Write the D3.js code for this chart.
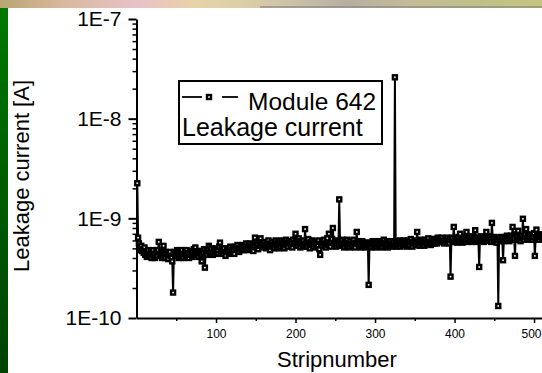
<!DOCTYPE html>
<html>
<head>
<meta charset="utf-8">
<script src="https://cdn.jsdelivr.net/npm/d3@7/dist/d3.min.js"></script>
<style>
  html, body { margin: 0; padding: 0; background: #fff; }
  svg { display: block; font-family: "Liberation Sans", Arial, sans-serif; }
</style>
</head>
<body>
<div id="chart"></div>
<script>
// leakage current per strip, in units of 1E-10 A (strip 1..512)
var leakage = [
  22.5, 6.4, 5.6, 5.1, 4.8, 5.3, 4.7, 4.9, 4.5, 5.1, 4.3, 4.7, 4.1, 4.5, 4.8, 4.3,
  4.2, 4.6, 4.0, 4.4, 4.8, 4.2, 4.0, 4.4, 4.6, 4.2, 4.8, 5.8, 4.4, 4.2, 4.6, 4.0,
  4.4, 5.3, 4.2, 4.0, 4.6, 4.4, 4.2, 3.9, 4.4, 4.6, 4.2, 4.0, 3.7, 1.8, 4.4, 4.6,
  4.2, 4.4, 4.8, 4.6, 4.0, 4.2, 4.4, 4.6, 4.8, 4.2, 4.0, 4.4, 4.6, 4.2, 4.8, 4.4,
  4.5, 4.0, 4.3, 4.7, 4.5, 4.1, 4.3, 4.9, 4.5, 5.1, 4.3, 4.7, 4.5, 4.1, 4.7, 4.5,
  4.3, 3.7, 4.7, 4.5, 4.9, 3.2, 4.5, 4.7, 4.3, 4.9, 5.3, 4.5, 4.7, 5.0, 4.5, 4.3,
  4.8, 4.6, 4.4, 5.0, 4.6, 4.8, 4.4, 5.2, 5.7, 4.6, 5.0, 4.8, 4.4, 5.0, 4.6, 4.2,
  4.6, 5.0, 4.8, 4.4, 4.6, 5.2, 4.8, 4.6, 5.0, 4.8, 4.4, 5.2, 5.0, 4.8, 5.4, 5.0,
  4.6, 5.0, 5.2, 4.8, 5.0, 5.4, 4.8, 5.2, 5.0, 5.6, 5.2, 4.8, 5.4, 5.0, 5.6, 5.2,
  5.1, 5.5, 4.7, 5.3, 6.4, 5.7, 5.1, 5.5, 4.9, 5.9, 5.3, 6.3, 5.5, 5.1, 5.7, 5.3,
  5.8, 5.4, 5.0, 5.6, 5.2, 6.0, 5.4, 4.8, 5.6, 5.2, 5.8, 5.4, 5.0, 5.6, 6.0, 5.2,
  5.4, 5.8, 5.0, 5.6, 5.2, 6.0, 5.6, 5.4, 5.8, 5.0, 5.6, 6.1, 5.4, 5.2, 5.8, 5.6,
  5.9, 5.3, 5.7, 5.1, 6.1, 5.5, 5.7, 7.0, 5.9, 5.3, 5.7, 6.3, 5.5, 5.1, 5.9, 5.7,
  5.2, 6.0, 5.4, 7.8, 5.6, 5.8, 5.2, 6.2, 5.6, 5.0, 5.8, 5.4, 6.0, 5.2, 5.6, 5.8,
  5.5, 5.1, 5.7, 5.3, 6.0, 4.9, 4.3, 5.5, 5.9, 5.3, 5.7, 6.1, 5.5, 5.1, 5.7, 6.3,
  5.4, 7.0, 5.6, 5.2, 5.8, 6.2, 8.0, 5.6, 5.4, 6.0, 5.2, 5.8, 5.6, 5.4, 15.5, 5.8,
  5.3, 5.7, 6.1, 5.5, 5.1, 5.9, 5.7, 5.3, 6.1, 5.5, 5.7, 5.1, 5.9, 5.5, 5.3, 5.7,
  6.1, 5.5, 5.1, 5.7, 7.3, 5.5, 5.9, 5.3, 5.7, 5.1, 5.5, 5.9, 5.3, 5.7, 5.5, 5.1,
  5.7, 5.3, 5.5, 2.15, 5.3, 5.7, 5.1, 5.5, 5.9, 5.3, 5.7, 5.5, 5.1, 5.9, 5.3, 5.7,
  5.5, 5.9, 5.3, 5.7, 5.1, 5.5, 6.1, 5.3, 5.7, 5.5, 5.9, 5.1, 5.7, 5.3, 5.9, 5.5,
  5.6, 5.2, 5.8, 5.4, 260, 5.6, 5.2, 5.8, 5.4, 5.6, 6.0, 5.2, 5.6, 5.8, 5.4, 6.0,
  5.6, 5.4, 5.8, 5.2, 6.0, 5.6, 5.4, 5.8, 6.2, 5.6, 5.2, 5.8, 5.6, 6.0, 5.4, 5.8,
  7.3, 5.5, 5.9, 5.3, 5.7, 6.1, 5.5, 5.9, 5.7, 5.3, 6.1, 5.7, 5.5, 5.9, 6.3, 5.7,
  5.8, 5.4, 6.0, 5.6, 6.2, 5.8, 5.6, 6.2, 6.0, 5.6, 6.4, 5.8, 6.2, 6.0, 5.8, 6.4,
  5.8, 6.0, 5.6, 6.2, 6.0, 5.8, 6.4, 6.0, 5.6, 6.2, 2.6, 6.0, 6.4, 5.8, 8.2, 6.2,
  5.9, 6.3, 5.7, 6.1, 6.5, 5.9, 7.0, 6.3, 6.1, 5.7, 6.3, 5.9, 6.5, 6.1, 7.3, 6.3,
  5.8, 6.4, 6.0, 6.2, 6.6, 5.8, 6.2, 6.4, 6.0, 7.6, 6.2, 5.8, 6.4, 6.0, 3.25, 6.2,
  6.6, 6.0, 6.4, 6.2, 5.8, 6.4, 6.0, 7.3, 6.2, 6.6, 6.0, 6.4, 6.2, 5.8, 9.0, 6.4,
  5.9, 6.5, 6.1, 6.3, 5.7, 6.1, 1.32, 6.3, 5.9, 6.5, 6.1, 6.3, 3.8, 5.9, 6.5, 6.1,
  6.3, 6.7, 6.1, 6.5, 5.9, 6.3, 6.7, 6.1, 8.2, 6.5, 6.3, 4.2, 6.9, 6.1, 6.5, 7.5,
  6.1, 6.5, 5.9, 6.7, 6.3, 9.9, 6.1, 6.5, 6.9, 7.8, 6.3, 6.7, 6.1, 6.5, 6.9, 6.3,
  6.7, 6.1, 6.5, 7.1, 4.2, 6.3, 7.7, 6.7, 6.5, 6.1, 6.9, 6.5, 6.7, 6.3, 6.9, 6.5
];
var unit = 1e-10;

var yMajor = [1e-10, 1e-9, 1e-8, 1e-7];
var xMajor = [100, 200, 300, 400, 500];
var xMinor = [50, 150, 250, 350, 450];

var legendLines = ['Module 642', 'Leakage current'];
var xTitle = 'Stripnumber';
var yTitle = 'Leakage current [A]';

var width = 542, height = 373;

var svg = d3.select('#chart').append('svg')
  .attr('width', width)
  .attr('height', height);

// slide decoration: blurred banner on top, green bar on the left
var defs = svg.append('defs');
var band = defs.append('linearGradient').attr('id', 'banner');
[['0%', '#b9a572'], ['12%', '#d8b9a0'], ['25%', '#e6c2c6'], ['36%', '#e9d2a8'],
 ['45%', '#d9cfa8'], ['55%', '#c9c0a8'], ['64%', '#b7aea2'], ['76%', '#c4bb98'],
 ['88%', '#bfc08a'], ['100%', '#c6c47e']].forEach(function (s) {
  band.append('stop').attr('offset', s[0]).attr('stop-color', s[1]);
});
var green = defs.append('linearGradient').attr('id', 'greenbar')
  .attr('x1', 0).attr('y1', 0).attr('x2', 0).attr('y2', 1);
green.append('stop').attr('offset', '0%').attr('stop-color', '#007800');
green.append('stop').attr('offset', '100%').attr('stop-color', '#004200');

svg.append('rect').attr('x', 0).attr('y', 0).attr('width', width).attr('height', 8)
  .attr('fill', 'url(#banner)');
svg.append('rect').attr('x', 260).attr('y', 6).attr('width', 282).attr('height', 2)
  .attr('fill', '#8c7f8a').attr('opacity', 0.6);
svg.append('rect').attr('x', 0).attr('y', 8).attr('width', 8).attr('height', height - 8)
  .attr('fill', 'url(#greenbar)');

var x = d3.scaleLinear().domain([0, 510]).range([136.5, 542]);
var y = d3.scaleLog().domain([1e-10, 1e-7]).range([318, 19]);

var yMinor = [];
yMajor.slice(0, -1).forEach(function (d) {
  for (var k = 2; k <= 9; k++) yMinor.push(d * k);
});

// minor ticks first, major axis on top
svg.append('g')
  .attr('transform', 'translate(' + x.range()[0] + ',0)')
  .call(d3.axisLeft(y).tickValues(yMinor).tickSize(4).tickSizeOuter(0).tickFormat(''))
  .call(function (g) { g.select('.domain').remove(); })
  .selectAll('line').attr('stroke-width', 1.5);

var yAxis = svg.append('g')
  .attr('transform', 'translate(' + x.range()[0] + ',0)')
  .call(d3.axisLeft(y).tickValues(yMajor).tickSize(8).tickSizeOuter(0).tickPadding(7)
    .tickFormat(function (d) { return '1E' + Math.round(Math.log10(d)); }));
yAxis.select('.domain').attr('stroke-width', 2);
yAxis.selectAll('line').attr('stroke-width', 2);
yAxis.selectAll('text')
  .attr('font-family', '"Liberation Sans", Arial, sans-serif')
  .attr('font-size', 21).attr('fill', '#000');

svg.append('g')
  .attr('transform', 'translate(0,' + y.range()[0] + ')')
  .call(d3.axisBottom(x).tickValues(xMinor).tickSize(3).tickSizeOuter(0).tickFormat(''))
  .call(function (g) { g.select('.domain').remove(); })
  .selectAll('line').attr('stroke-width', 1.5);

var xAxis = svg.append('g')
  .attr('transform', 'translate(0,' + y.range()[0] + ')')
  .call(d3.axisBottom(x).tickValues(xMajor).tickSize(5).tickSizeOuter(0).tickPadding(6)
    .tickFormat(d3.format('d')));
xAxis.select('.domain').attr('stroke-width', 2);
xAxis.selectAll('line').attr('stroke-width', 1.5);
xAxis.selectAll('text')
  .attr('font-family', '"Liberation Sans", Arial, sans-serif')
  .attr('font-size', 12).attr('fill', '#000');
// last label sits against the right edge, as in the slide
xAxis.selectAll('.tick').filter(function (d) { return d === 500; })
  .select('text').attr('text-anchor', 'end').attr('x', 7);

// data: line + open squares
var points = leakage.map(function (v, i) { return {strip: i + 1, value: v * unit}; });

var plot = svg.append('g');
plot.append('path')
  .datum(points)
  .attr('fill', 'none')
  .attr('stroke', '#000')
  .attr('stroke-width', 2)
  .attr('d', d3.line()
    .x(function (d) { return x(d.strip); })
    .y(function (d) { return y(d.value); }));

var s = 4;
plot.selectAll('rect.pt')
  .data(points)
  .enter().append('rect')
  .attr('class', 'pt')
  .attr('x', function (d) { return x(d.strip) - s / 2; })
  .attr('y', function (d) { return y(d.value) - s / 2; })
  .attr('width', s)
  .attr('height', s)
  .attr('fill', '#fff')
  .attr('stroke', '#000')
  .attr('stroke-width', 2.4);

// axis titles
svg.append('text')
  .attr('x', 337).attr('y', 367)
  .attr('text-anchor', 'middle')
  .attr('font-size', 22)
  .text(xTitle);

svg.append('text')
  .attr('transform', 'translate(29,176) rotate(-90)')
  .attr('text-anchor', 'middle')
  .attr('font-size', 22)
  .text(yTitle);

// legend box
var legend = svg.append('g');
legend.append('rect')
  .attr('x', 179).attr('y', 81).attr('width', 203).attr('height', 63)
  .attr('fill', '#fff').attr('stroke', '#000').attr('stroke-width', 2);
legend.append('line').attr('x1', 182).attr('x2', 202).attr('y1', 97).attr('y2', 97)
  .attr('stroke', '#000').attr('stroke-width', 1.8);
legend.append('line').attr('x1', 222).attr('x2', 238).attr('y1', 97).attr('y2', 97)
  .attr('stroke', '#000').attr('stroke-width', 1.8);
legend.append('rect').attr('x', 207).attr('y', 95).attr('width', s).attr('height', s)
  .attr('fill', '#fff').attr('stroke', '#000').attr('stroke-width', 2.4);
legend.append('text').attr('x', 248).attr('y', 110).attr('font-size', 24.5).text(legendLines[0]);
legend.append('text').attr('x', 182).attr('y', 136).attr('font-size', 25).text(legendLines[1]);
</script>
</body>
</html>
